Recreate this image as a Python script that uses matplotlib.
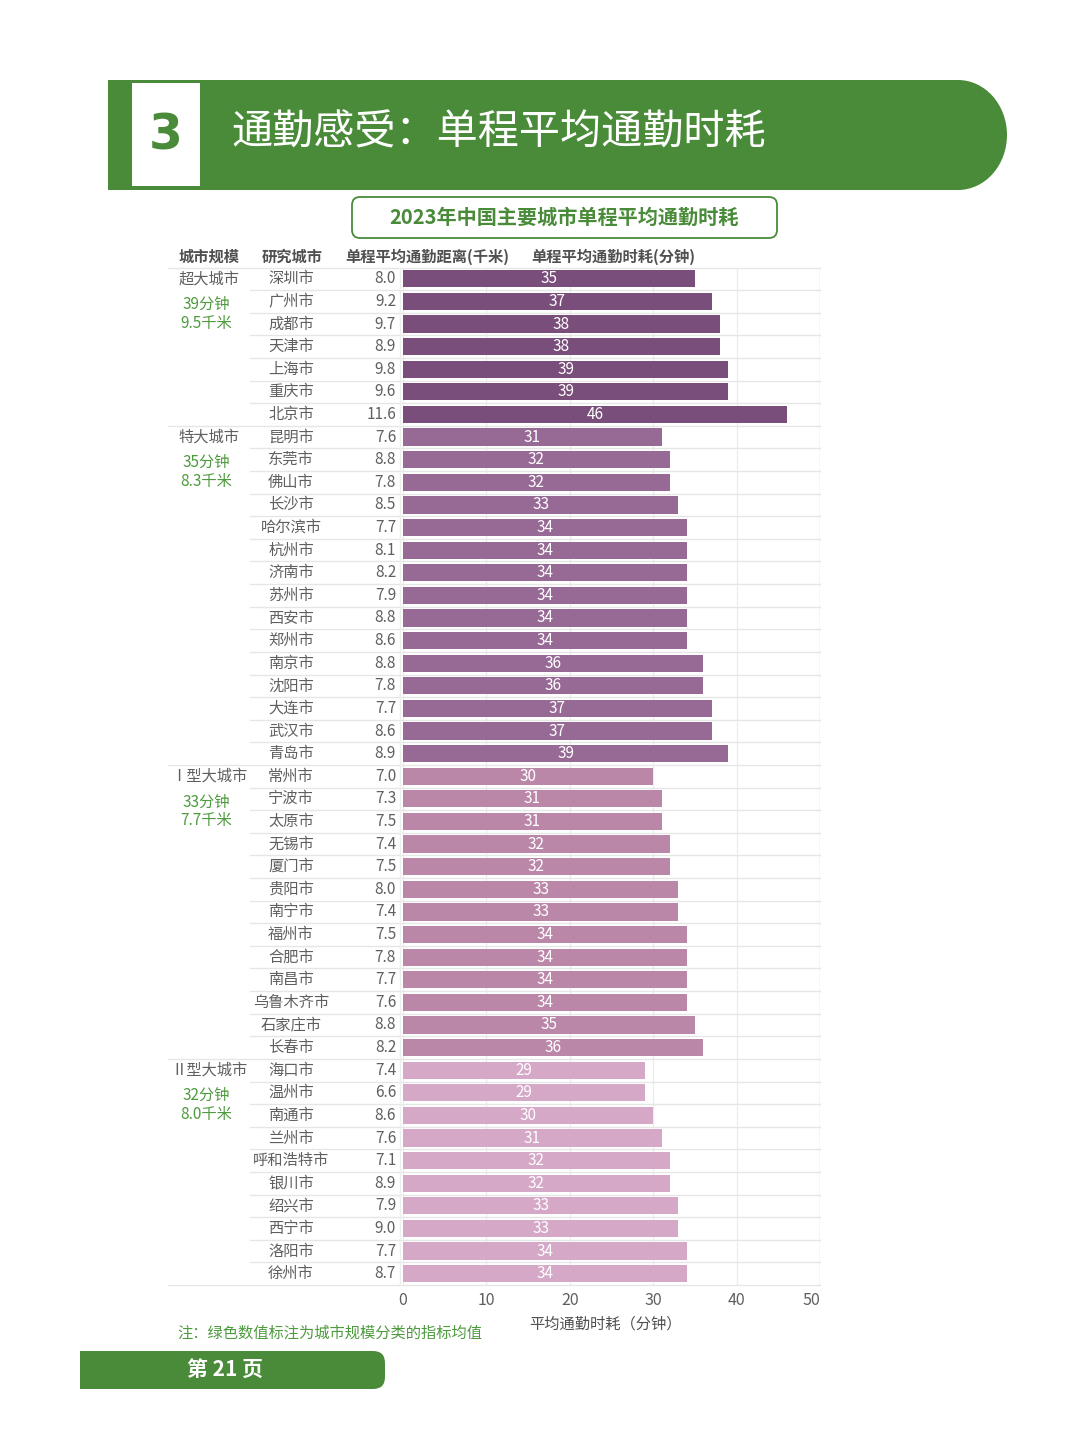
import matplotlib
matplotlib.use("Agg")
import matplotlib.pyplot as plt
from matplotlib.patches import Rectangle, Ellipse, FancyBboxPatch
from matplotlib.transforms import blended_transform_factory

plt.rcParams['font.family'] = ['Noto Sans CJK SC', 'DejaVu Sans']

# ---------------- data ----------------
groups = ["超大城市", "特大城市", "Ⅰ型大城市", "Ⅱ型大城市"]
group_sizes = [7, 15, 13, 10]
group_mean_time = ["39分钟", "35分钟", "33分钟", "32分钟"]
group_mean_dist = ["9.5千米", "8.3千米", "7.7千米", "8.0千米"]

cities = ["深圳市", "广州市", "成都市", "天津市", "上海市", "重庆市", "北京市",
          "昆明市", "东莞市", "佛山市", "长沙市", "哈尔滨市", "杭州市", "济南市", "苏州市",
          "西安市", "郑州市", "南京市", "沈阳市", "大连市", "武汉市", "青岛市",
          "常州市", "宁波市", "太原市", "无锡市", "厦门市", "贵阳市", "南宁市", "福州市",
          "合肥市", "南昌市", "乌鲁木齐市", "石家庄市", "长春市",
          "海口市", "温州市", "南通市", "兰州市", "呼和浩特市", "银川市", "绍兴市",
          "西宁市", "洛阳市", "徐州市"]
distance_km = [8.0, 9.2, 9.7, 8.9, 9.8, 9.6, 11.6,
               7.6, 8.8, 7.8, 8.5, 7.7, 8.1, 8.2, 7.9, 8.8, 8.6, 8.8, 7.8, 7.7, 8.6, 8.9,
               7.0, 7.3, 7.5, 7.4, 7.5, 8.0, 7.4, 7.5, 7.8, 7.7, 7.6, 8.8, 8.2,
               7.4, 6.6, 8.6, 7.6, 7.1, 8.9, 7.9, 9.0, 7.7, 8.7]
time_min = [35, 37, 38, 38, 39, 39, 46,
            31, 32, 32, 33, 34, 34, 34, 34, 34, 34, 36, 36, 37, 37, 39,
            30, 31, 31, 32, 32, 33, 33, 34, 34, 34, 34, 35, 36,
            29, 29, 30, 31, 32, 32, 33, 33, 34, 34]
group_colors = ["#7A4E7A", "#976A96", "#BB87A9", "#D5A8C8"]
x_ticks = [0, 10, 20, 30, 40, 50]

GREEN = "#4A8B3A"
TEXT_GRAY = "#5f5f5f"

# ---------------- figure ----------------
W, H = 1080, 1440
fig = plt.figure(figsize=(W / 100, H / 100), dpi=100)
fig.patch.set_facecolor("white")

bg = fig.add_axes([0, 0, 1, 1])
bg.set_xlim(0, W)
bg.set_ylim(H, 0)
bg.axis("off")

# header banner
bg.add_patch(Rectangle((108, 80), 850, 110, color=GREEN, lw=0))
bg.add_patch(Ellipse((958, 135), 98, 110, color=GREEN, lw=0))
bg.add_patch(Rectangle((132, 83), 68, 103, color="white", lw=0))
bg.text(166, 135, "3", color=GREEN, fontsize=35, fontweight="bold",
        ha="center", va="center", family=["DejaVu Sans"])
bg.text(231, 133, "通勤感受：单程平均通勤时耗", color="white", fontsize=29.6,
        ha="left", va="center")

# subtitle box
bg.add_patch(FancyBboxPatch((352, 197), 425, 41, boxstyle="round,pad=0,rounding_size=8",
                            fc="white", ec=GREEN, lw=1.3))
bg.text(564, 217, "2023年中国主要城市单程平均通勤时耗", color=GREEN, fontsize=14.5,
        fontweight="bold", ha="center", va="center")

# column headers
hdr_kw = dict(color="#505050", fontsize=11, fontweight="bold", ha="center", va="center")
bg.text(209, 257, "城市规模", **hdr_kw)
bg.text(292, 257, "研究城市", **hdr_kw)
bg.text(427, 257, "单程平均通勤距离(千米)", **hdr_kw)
bg.text(613, 257, "单程平均通勤时耗(分钟)", **hdr_kw)

# ---------------- bar axes ----------------
top_px, bot_px, left_px, right_px = 267.5, 1285, 403, 820
ax = fig.add_axes([left_px / W, 1 - bot_px / H, (right_px - left_px) / W, (bot_px - top_px) / H])
n = len(cities)
rows = list(range(n))

colors = []
group_start = []
s = 0
for gi, sz in enumerate(group_sizes):
    group_start.append(s)
    colors += [group_colors[gi]] * sz
    s += sz

ax.set_xlim(0, 50)
ax.set_ylim(n - 0.5, -0.5)
ax.set_xticks(x_ticks)
ax.set_xticklabels([str(t) for t in x_ticks], color=TEXT_GRAY, fontsize=11.5)
ax.get_xticklabels()[-1].set_ha("right")
ax.tick_params(axis="x", length=0, pad=5)
ax.set_yticks([])
for sp in ax.spines.values():
    sp.set_visible(False)
ax.grid(axis="x", color="#ececec", lw=0.9)
ax.set_axisbelow(True)
ax.axvline(50, color="#e2e2e2", lw=1)

bars = ax.barh(rows, time_min, height=0.76, color=colors, zorder=3)
for r, v in zip(rows, time_min):
    ax.text(v / 2, r, str(v), color="white", fontsize=11, ha="center", va="center", zorder=4)

ax.set_xlabel("平均通勤时耗（分钟）", color="#505050", fontsize=11, labelpad=6)
ax.xaxis.set_label_coords((605 - left_px) / (right_px - left_px), -0.03)

# table texts (x in page pixels, y in row units)
tr = blended_transform_factory(bg.transData, ax.transData)
for r, (c, d) in enumerate(zip(cities, distance_km)):
    ax.text(291, r, c, transform=tr, color=TEXT_GRAY, fontsize=11, ha="center", va="center", clip_on=False)
    ax.text(396, r, f"{d:.1f}", transform=tr, color=TEXT_GRAY, fontsize=11, ha="right", va="center", clip_on=False)

for gi, g in enumerate(groups):
    st = group_start[gi]
    ax.text(209, st, g, transform=tr, color=TEXT_GRAY, fontsize=11, ha="center", va="center", clip_on=False)
    ax.text(206, st + 1.55, group_mean_time[gi] + "\n" + group_mean_dist[gi], transform=tr,
            color="#4E9A3E", fontsize=11, ha="center", va="center", linespacing=1.15, clip_on=False)

# separators
starts = set(group_start)
for i in range(n + 1):
    y = i - 0.5
    x0 = 168 if (i in starts or i == n) else 250
    ax.plot([x0, 820], [y, y], transform=tr, color="#e6e6e6", lw=1, clip_on=False, zorder=1)
ax.plot([400, 400], [-0.5, n - 0.5], transform=tr, color="#eeeeee", lw=1, clip_on=False, zorder=1)

# note & footer
bg.text(177, 1333, "注：绿色数值标注为城市规模分类的指标均值", color="#4E9A3E", fontsize=11,
        ha="left", va="center")
bg.add_patch(FancyBboxPatch((60, 1351), 325, 38, boxstyle="round,pad=0,rounding_size=12",
                            fc=GREEN, ec="none"))
bg.add_patch(Rectangle((60, 1351), 20, 38, color="white", lw=0))
bg.text(187, 1369, "第 21 页", color="white", fontsize=15, fontweight="bold",
        ha="left", va="center")

fig.savefig("out.png", dpi=100, facecolor="white")
